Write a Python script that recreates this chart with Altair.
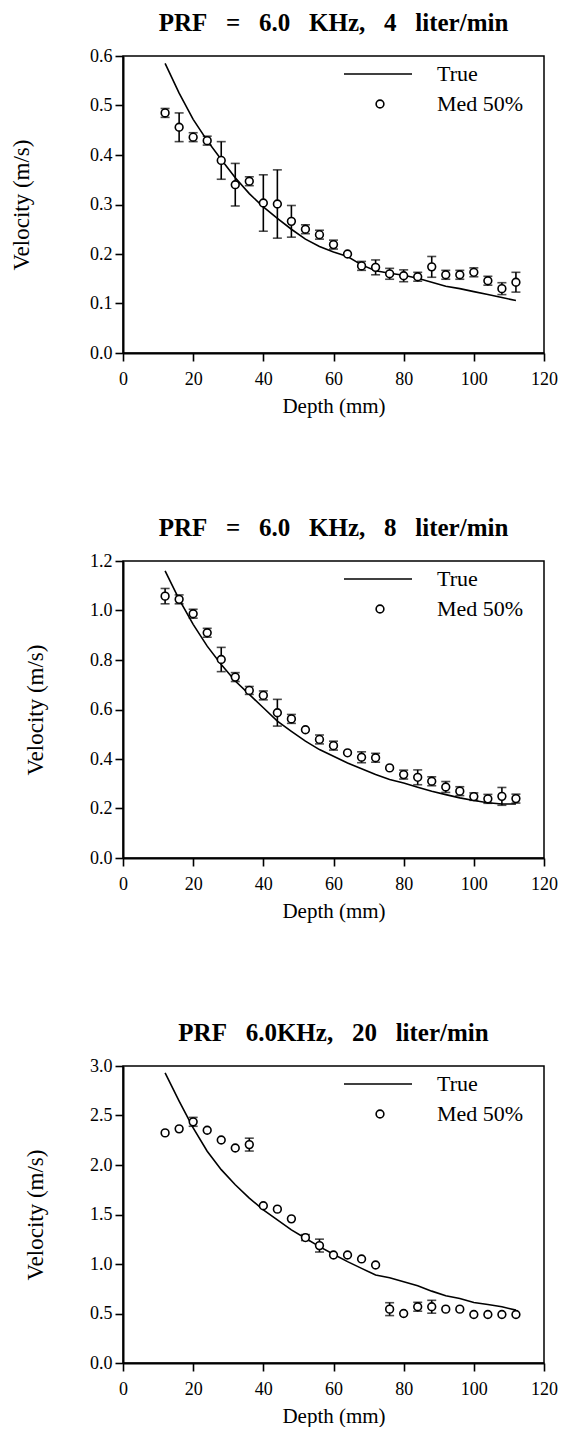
import altair as alt
import pandas as pd

# ---------------- data ----------------
depth = [12, 16, 20, 24, 28, 32, 36, 40, 44, 48, 52, 56, 60, 64,
         68, 72, 76, 80, 84, 88, 92, 96, 100, 104, 108, 112]

SP = "\u00a0\u00a0 "
titles = [
    f"PRF{SP}={SP}6.0{SP}KHz,{SP}4{SP}liter/min",
    f"PRF{SP}={SP}6.0{SP}KHz,{SP}8{SP}liter/min",
    f"PRF{SP}6.0KHz,{SP}20{SP}liter/min",
]
legend_labels = ["True", "Med 50%"]
x_title = "Depth (mm)"
y_title = "Velocity (m/s)"

# panel 1 : 4 liter/min
p1_true = [0.585, 0.525, 0.472, 0.429, 0.391, 0.354, 0.322, 0.295, 0.272, 0.250,
           0.230, 0.215, 0.204, 0.195, 0.178, 0.166, 0.161, 0.157, 0.151, 0.143,
           0.135, 0.130, 0.124, 0.118, 0.112, 0.106]
p1_med = [0.485, 0.456, 0.436, 0.429, 0.389, 0.340, 0.347, 0.303, 0.301, 0.266,
          0.250, 0.239, 0.219, 0.200, 0.176, 0.173, 0.160, 0.156, 0.154, 0.174,
          0.158, 0.158, 0.163, 0.146, 0.130, 0.143]
p1_err = [0.009, 0.029, 0.009, 0.009, 0.038, 0.043, 0.009, 0.057, 0.069, 0.032,
          0.009, 0.009, 0.009, 0.0, 0.009, 0.015, 0.011, 0.012, 0.009, 0.021,
          0.009, 0.009, 0.009, 0.009, 0.012, 0.020]

# panel 2 : 8 liter/min
p2_true = [1.160, 1.045, 0.944, 0.856, 0.782, 0.715, 0.661, 0.607, 0.553, 0.512,
           0.472, 0.438, 0.411, 0.384, 0.361, 0.337, 0.317, 0.303, 0.286, 0.270,
           0.256, 0.243, 0.232, 0.223, 0.218, 0.218]
p2_med = [1.058, 1.045, 0.987, 0.910, 0.802, 0.731, 0.677, 0.657, 0.587, 0.562,
          0.518, 0.479, 0.454, 0.425, 0.407, 0.405, 0.364, 0.337, 0.326, 0.310,
          0.287, 0.270, 0.248, 0.239, 0.249, 0.240]
p2_err = [0.031, 0.018, 0.018, 0.018, 0.049, 0.018, 0.016, 0.018, 0.054, 0.018,
          0.0, 0.018, 0.018, 0.0, 0.022, 0.018, 0.0, 0.018, 0.030, 0.018,
          0.022, 0.018, 0.015, 0.018, 0.036, 0.018]

# panel 3 : 20 liter/min
p3_true = [2.930, 2.645, 2.375, 2.139, 1.953, 1.800, 1.666, 1.547, 1.446, 1.345,
           1.260, 1.176, 1.098, 1.024, 0.956, 0.889, 0.861, 0.821, 0.780, 0.726,
           0.679, 0.652, 0.611, 0.591, 0.568, 0.534]
p3_med = [2.324, 2.365, 2.436, 2.351, 2.253, 2.172, 2.206, 1.588, 1.554, 1.456,
          1.267, 1.186, 1.091, 1.091, 1.051, 0.990, 0.544, 0.500, 0.568, 0.568,
          0.544, 0.544, 0.490, 0.490, 0.490, 0.490]
p3_err = [0.0, 0.0, 0.045, 0.0, 0.0, 0.0, 0.065, 0.0, 0.0, 0.0,
          0.030, 0.065, 0.0, 0.0, 0.0, 0.0, 0.065, 0.0, 0.045, 0.065,
          0.0, 0.0, 0.0, 0.0, 0.0, 0.0]

y_max = [0.6, 1.2, 3.0]
y_major = [0.1, 0.2, 0.5]
y_minor = [0.05, 0.1, 0.25]

# ---------------- style ----------------
FONT = "Liberation Serif"
W, H = 421, 297
LW = 1.6


def panel(title, true_vals, med_vals, err_vals, ymax, ymaj, ymin, ytpad):
    df = pd.DataFrame({"depth": depth, "true": true_vals, "med": med_vals, "err": err_vals})
    df["lo"] = df["med"] - df["err"]
    df["hi"] = df["med"] + df["err"]

    common = dict(
        labelOverlap=False, labelFlush=False, grid=False,
        domainColor="black", domainWidth=2, tickColor="black", tickWidth=1.6,
        labelFont=FONT, labelFontSize=18, labelColor="black",
        titleFont=FONT, titleFontWeight="normal", titleColor="black",
    )
    xvals = list(range(0, 121, 10))
    xaxis = alt.Axis(
        values=xvals,
        labelExpr="datum.value % 20 === 0 ? datum.label : ''",
        tickSize={"condition": {"test": "datum.value % 20 === 0", "value": 8}, "value": 5},
        labelPadding=9, titlePadding=7, titleFontSize=21, **common,
    )
    n = int(round(ymax / ymin))
    yvals = [round(i * ymin, 4) for i in range(n + 1)]
    test = f"abs(datum.value/{ymaj} - round(datum.value/{ymaj})) < 0.001"
    yaxis = alt.Axis(
        values=yvals, format=".1f",
        labelExpr=f"{test} ? datum.label : ''",
        tickSize={"condition": {"test": test, "value": 8}, "value": 5},
        labelPadding=3, titlePadding=ytpad, titleFontSize=23, **common,
    )
    xs = alt.Scale(domain=[0, 120], nice=False, zero=False)
    ys = alt.Scale(domain=[0, ymax], nice=False, zero=True)

    X = alt.X("depth:Q", scale=xs, axis=xaxis, title=x_title)
    base = alt.Chart(df)
    line = base.mark_line(color="black", strokeWidth=LW).encode(
        x=X, y=alt.Y("true:Q", scale=ys, axis=yaxis, title=y_title))
    eb = base.transform_filter("datum.err > 0")
    bars = eb.mark_rule(color="black", strokeWidth=LW).encode(
        x="depth:Q", y="lo:Q", y2="hi:Q")
    cap_lo = eb.mark_tick(orient="horizontal", color="black", size=9, thickness=LW).encode(
        x="depth:Q", y="lo:Q")
    cap_hi = eb.mark_tick(orient="horizontal", color="black", size=9, thickness=LW).encode(
        x="depth:Q", y="hi:Q")
    pts = base.mark_point(shape="circle", filled=True, fill="white", stroke="black",
                          strokeWidth=LW, size=60, opacity=1).encode(
        x="depth:Q", y="med:Q")

    one = alt.Chart(pd.DataFrame({"k": [0]}))
    leg_line = one.mark_rule(color="black", strokeWidth=LW).encode(
        x=alt.value(221), x2=alt.value(289), y=alt.value(18))
    leg_pt = one.mark_point(shape="circle", filled=True, fill="white", stroke="black",
                            strokeWidth=LW, size=60, opacity=1).encode(
        x=alt.value(257), y=alt.value(48))
    leg_t1 = one.mark_text(align="left", baseline="middle", font=FONT, fontSize=22,
                           color="black").encode(
        x=alt.value(314), y=alt.value(18), text=alt.value(legend_labels[0]))
    leg_t2 = one.mark_text(align="left", baseline="middle", font=FONT, fontSize=22,
                           color="black").encode(
        x=alt.value(314), y=alt.value(48), text=alt.value(legend_labels[1]))

    return alt.layer(line, bars, cap_lo, cap_hi, pts, leg_line, leg_pt, leg_t1, leg_t2).properties(
        width=W, height=H,
        title=alt.TitleParams(text=title, font=FONT, fontSize=25, fontWeight="bold",
                              color="black", anchor="middle", offset=11),
    )


panels = [
    panel(titles[0], p1_true, p1_med, p1_err, y_max[0], y_major[0], y_minor[0], 56),
    panel(titles[1], p2_true, p2_med, p2_err, y_max[1], y_major[1], y_minor[1], 42),
    panel(titles[2], p3_true, p3_med, p3_err, y_max[2], y_major[2], y_minor[2], 42),
]

chart = alt.vconcat(*panels, spacing=98).properties(
    padding={"left": 1, "top": 2, "right": 0, "bottom": 0},
    background="white",
).configure_view(
    stroke="black", strokeWidth=1.5
)

chart.save("out.html", embed_options={"renderer": "svg", "actions": False})
